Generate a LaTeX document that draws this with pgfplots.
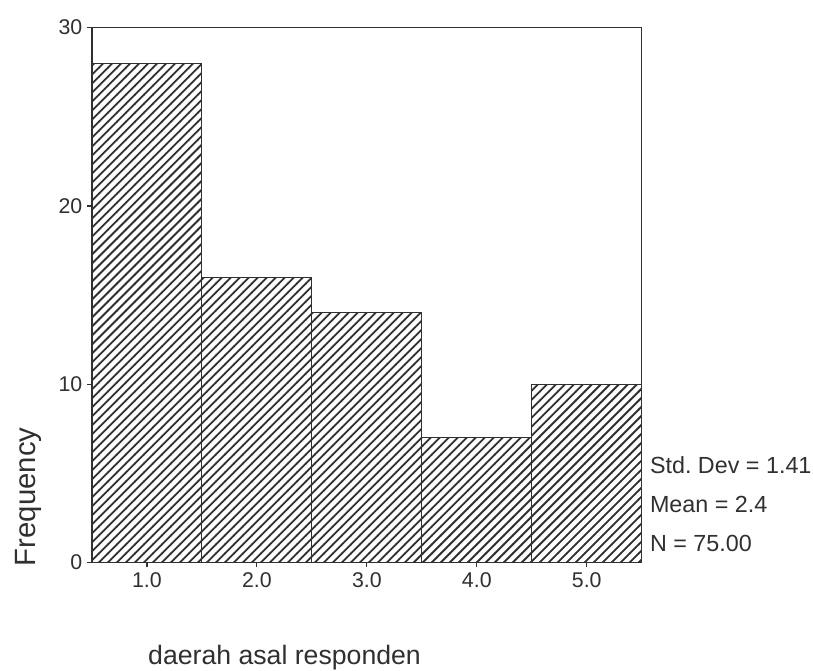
\documentclass[border=0pt]{standalone}
\usepackage{fontspec}
\setmainfont{Liberation Sans}
\usepackage{pgfplots}
\pgfplotsset{compat=1.18}
\usetikzlibrary{patterns,calc}

\definecolor{ink}{HTML}{303030}

% diagonal hatching like the SPSS bars
\pgfdeclarepatternformonly{hatch}{\pgfqpoint{-1pt}{-1pt}}{\pgfqpoint{7.75pt}{7.75pt}}{\pgfqpoint{6.75pt}{6.75pt}}%
{\pgfsetlinewidth{1.35pt}\pgfpathmoveto{\pgfqpoint{-0.2pt}{-0.2pt}}\pgfpathlineto{\pgfqpoint{6.95pt}{6.95pt}}\pgfusepath{stroke}}

\begin{document}
\frenchspacing
\begin{tikzpicture}
\begin{axis}[
  scale only axis,
  width=412.5pt, height=401.25pt,
  xmin=0.5, xmax=5.5, ymin=0, ymax=30,
  xtick={1,2,3,4,5},
  xticklabels={1.0,2.0,3.0,4.0,5.0},
  ytick={0,10,20,30},
  tick align=outside, tick pos=left,
  major tick length=3.75pt,
  axis line style={ink, line width=0.9pt},
  tick style={ink, line width=0.9pt},
  ticklabel style={font=\fontsize{16}{19}\selectfont, text=ink},
  /pgf/number format/assume math mode=true,
  clip=false,
]
\addplot[ybar interval, draw=ink, line width=0.8pt, pattern=hatch, pattern color=ink]
  coordinates {(0.5,28) (1.5,16) (2.5,14) (3.5,7) (4.5,10) (5.5,10)};

\node[anchor=base west, inner sep=0pt, text=ink, font=\fontsize{17.5}{20}\selectfont] at (axis cs:5.573,4.99) {Std.\ Dev = 1.41};
\node[anchor=base west, inner sep=0pt, text=ink, font=\fontsize{17.5}{20}\selectfont] at (axis cs:5.573,2.80) {Mean = 2.4};
\node[anchor=base west, inner sep=0pt, text=ink, font=\fontsize{17.5}{20}\selectfont] at (axis cs:5.573,0.617) {N = 75.00};

\node[anchor=base west, inner sep=0pt, text=ink, font=\fontsize{20}{24}\selectfont] at (axis cs:1.009,-5.72) {daerah asal responden};
\node[anchor=base west, inner sep=0pt, rotate=90, text=ink, font=\fontsize{22}{24}\selectfont] at (axis cs:-0.018,-0.224) {Frequency};

\coordinate (o) at (rel axis cs:0,0);
\end{axis}
\pgfresetboundingbox
\path[use as bounding box] ($(o)+(-69pt,-81pt)$) rectangle ++(610pt,503pt);
\end{tikzpicture}
\end{document}
